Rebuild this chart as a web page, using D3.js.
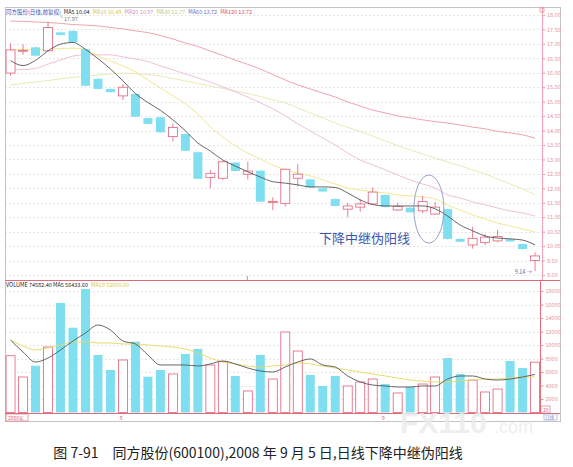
<!DOCTYPE html>
<html>
<head>
<meta charset="utf-8">
<script src="https://cdn.jsdelivr.net/npm/d3@7"></script>
<style>
  body { margin: 0; background: #fff; }
  svg { display: block; }
  text { font-family: "Noto Sans CJK SC", "DejaVu Sans", sans-serif; }
</style>
</head>
<body>
<div id="chart"></div>
<script>
// daily candles, 43 sessions ending 2008-09
const opens = [15.99,16.76,16.88,16.76,17.40,17.45,16.82,15.79,15.44,15.20,15.27,14.43,14.46,13.79,13.88,13.25,12.38,12.35,12.89,12.49,12.61,11.53,11.48,12.35,12.31,12.00,11.63,11.28,11.35,11.46,11.77,11.25,11.33,11.22,11.11,11.28,10.25,10.04,10.13,10.18,10.24,10.07,9.50];
const closes = [16.79,16.78,16.59,17.57,17.31,17.06,15.55,15.44,15.33,15.50,14.48,14.23,13.94,14.11,13.30,12.33,12.52,12.92,12.60,12.60,11.54,11.55,12.66,12.49,12.03,11.89,11.39,11.39,11.46,11.87,11.35,11.37,11.17,11.54,11.35,10.25,10.15,10.27,10.31,10.33,10.16,9.90,9.66];
const highs = [17.02,16.99,16.92,17.76,17.42,17.47,16.84,15.81,15.46,15.61,15.29,14.45,14.48,14.25,13.90,13.27,12.64,12.95,12.91,12.92,12.63,11.69,12.68,12.84,12.33,12.02,11.65,11.50,11.62,12.04,11.79,11.50,11.35,11.74,11.54,11.30,10.27,10.67,10.42,10.56,10.26,10.09,9.78];
const lows = [15.90,16.62,16.55,16.74,17.29,17.04,15.52,15.42,15.31,15.06,14.46,14.21,13.92,13.62,13.28,12.31,12.00,12.29,12.58,12.31,11.52,11.25,11.37,12.06,12.01,11.87,11.37,11.00,11.19,11.45,11.33,11.22,11.15,11.14,11.08,10.23,10.13,9.91,10.04,10.13,10.14,9.88,9.14];
const volumes = [8410,5260,6930,9700,16220,12560,18300,8520,6300,7780,10490,5300,6300,5700,8670,9410,7040,7530,5410,3190,8520,4960,11930,9110,5560,3930,5410,3930,4520,4960,4220,2890,3780,4220,5260,8070,5700,4810,3040,3480,7630,6590,7458];

// moving averages as drawn
const ma5 = [16.42,16.25,16.43,16.76,16.99,17.05,16.81,16.49,16.13,15.72,15.28,14.97,14.70,14.37,13.99,13.57,13.29,12.98,12.77,12.57,12.39,12.23,12.18,12.12,12.05,12.05,12.03,11.84,11.60,11.44,11.39,11.39,11.39,11.39,11.29,11.04,10.73,10.53,10.35,10.28,10.25,10.21,10.04];
const ma10 = [16.80,16.80,16.80,16.82,16.84,16.85,16.82,16.58,16.41,16.24,16.03,15.75,15.47,15.20,14.92,14.57,14.12,13.78,13.47,13.22,13.02,12.81,12.64,12.53,12.43,12.29,12.15,12.01,11.94,11.88,11.84,11.77,11.74,11.70,11.63,11.42,11.25,11.08,10.94,10.80,10.70,10.59,10.49];
const ma20 = [16.10,16.11,16.15,16.30,16.44,16.58,16.62,16.62,16.62,16.55,16.48,16.39,16.24,16.10,15.96,15.82,15.68,15.51,15.34,15.16,14.96,14.75,14.51,14.23,13.99,13.74,13.50,13.22,12.98,12.81,12.64,12.46,12.29,12.15,12.01,11.77,11.67,11.53,11.43,11.32,11.22,11.15,11.04];
const ma30 = [15.58,15.63,15.68,15.73,15.79,15.84,15.87,15.92,15.96,15.99,15.97,15.94,15.89,15.80,15.72,15.63,15.54,15.46,15.37,15.28,15.18,15.06,14.96,14.78,14.61,14.44,14.26,14.11,13.97,13.81,13.64,13.48,13.33,13.19,13.05,12.91,12.78,12.64,12.50,12.33,12.15,11.98,11.77];
const ma120 = [17.79,17.78,17.76,17.74,17.71,17.67,17.65,17.62,17.57,17.52,17.45,17.39,17.29,17.17,17.03,16.91,16.75,16.60,16.44,16.29,16.13,15.94,15.75,15.58,15.44,15.30,15.16,14.99,14.85,14.71,14.61,14.51,14.44,14.37,14.31,14.26,14.19,14.12,14.06,13.97,13.92,13.85,13.74];
const volMa5 = [10740,8960,7480,8070,9260,10590,11780,12960,12220,10590,10150,8520,7040,7040,7040,6890,7190,7630,7190,6590,6150,6000,6740,7480,7930,7040,6740,5410,4520,4070,3930,3780,3780,3930,3930,4960,5410,5410,4960,4810,4960,5260,5643];
const volMa10 = [10740,9850,9260,9560,10000,10440,10440,10300,10300,10150,10150,10000,9850,9700,9410,8810,8070,7480,7190,6890,6740,6890,7040,7330,7190,6890,6590,6300,6000,5700,5410,5110,4810,4670,4520,4520,4670,4810,4960,4960,5110,5260,5260];

// axis ticks and labels
const priceTicks = [18,17.5,17,16.5,16,15.5,15,14.5,14,13.5,13,12.5,12,11.5,11,10.5,10,9.5,9];
const volTicks = [18000,16000,14000,12000,10000,8000,6000,4000,2000];
const priceLegend = [
  { text: "同方股份(日线,前复权)", color: "#3a4fc0" },
  { text: "MA5 10.04", color: "#222" },
  { text: "MA10 10.49", color: "#d8c840" },
  { text: "MA20 10.97", color: "#d890c0" },
  { text: "MA30 11.77", color: "#c8c870" },
  { text: "MA60 13.72", color: "#6070d0" },
  { text: "MA120 13.72", color: "#e05060" }
];
const volLegend = [
  { text: "VOLUME 74582.40  MA5 56433.60", color: "#222" },
  { text: "MA10 52600.00", color: "#d8c840" }
];
const monthMarks = [{ idx: 9, text: "8" }, { idx: 30, text: "9" }];
const caption = "图 7-91　同方股份(600100),2008 年 9 月 5 日,日线下降中继伪阳线";
const noteText = "下降中继伪阳线";

const W = 573, H = 467;
const frame = { left: 5, right: 560, top: 7, priceBottom: 280, volTop: 281, volBottom: 413, bottom: 421 };
const axisX = 542;
const UP = "#e0607a", DOWN = "#7fdff0";

const svg = d3.select("#chart").append("svg")
  .attr("width", W).attr("height", H)
  .attr("viewBox", `0 0 ${W} ${H}`);
svg.append("rect").attr("width", W).attr("height", H).attr("fill", "#fff");

const idx = d3.range(opens.length);
const x = d3.scaleBand().domain(idx).range([4.3, 541.3]).paddingInner(0.28).paddingOuter(0.14);
const cx = (i) => x(i) + x.bandwidth() / 2;
const y = d3.scaleLinear().domain([9, 18]).range([275, 15]);
const yv = d3.scaleLinear().domain([0, 18000]).range([412.5, 291]);

// grid
const grid = svg.append("g").attr("stroke", "#e6e6e6").attr("stroke-dasharray", "2,2");
priceTicks.forEach((t) => {
  grid.append("line").attr("x1", frame.left).attr("x2", axisX)
    .attr("y1", Math.round(y(t)) + 0.5).attr("y2", Math.round(y(t)) + 0.5);
});
volTicks.forEach((t) => {
  grid.append("line").attr("x1", frame.left).attr("x2", axisX)
    .attr("y1", Math.round(yv(t)) + 0.5).attr("y2", Math.round(yv(t)) + 0.5);
});

// frame
svg.append("rect").attr("x", frame.left + 0.5).attr("y", frame.top + 0.5)
  .attr("width", frame.right - frame.left).attr("height", frame.bottom - frame.top)
  .attr("fill", "none").attr("stroke", "#c4c4c4");
svg.append("line").attr("x1", frame.left).attr("x2", frame.right)
  .attr("y1", frame.priceBottom + 0.5).attr("y2", frame.priceBottom + 0.5).attr("stroke", "#e06a7a");
svg.append("line").attr("x1", frame.left).attr("x2", frame.right)
  .attr("y1", frame.volBottom + 0.5).attr("y2", frame.volBottom + 0.5).attr("stroke", "#e06a7a");
svg.append("line").attr("x1", axisX - 1.5).attr("x2", axisX - 1.5)
  .attr("y1", frame.volTop).attr("y2", frame.volBottom).attr("stroke", "#e06a7a");
svg.append("line").attr("x1", axisX + 0.5).attr("x2", axisX + 0.5)
  .attr("y1", frame.top).attr("y2", frame.priceBottom).attr("stroke", "#eca0b0");
svg.append("rect").attr("x", axisX - 2).attr("y", 8).attr("width", 4).attr("height", 4)
  .attr("fill", "none").attr("stroke", "#e07080").attr("stroke-width", 0.6);

// right price axis
const priceAxis = svg.append("g")
  .attr("transform", `translate(${axisX},0)`)
  .call(d3.axisRight(y).tickValues(priceTicks).tickSize(3).tickFormat(d3.format(".2f")));
priceAxis.select(".domain").remove();
priceAxis.selectAll(".tick line").attr("stroke", "#e890a0");
priceAxis.selectAll(".tick text").attr("fill", "#e890a0").style("font-size", "5.5px").attr("x", 5);
const minor = svg.append("g").attr("transform", `translate(${axisX},0)`)
  .call(d3.axisRight(y).tickValues(d3.range(9, 18.01, 0.1)).tickSize(1.5).tickFormat(""));
minor.select(".domain").remove();
minor.selectAll(".tick line").attr("stroke", "#eeb0c0");

// right volume axis
const volAxis = svg.append("g")
  .attr("transform", `translate(${axisX - 1.5},0)`)
  .call(d3.axisRight(yv).tickValues(volTicks).tickSize(3).tickFormat(d3.format("d")));
volAxis.select(".domain").remove();
volAxis.selectAll(".tick line").attr("stroke", "#e890a0");
volAxis.selectAll(".tick text").attr("fill", "#e890a0").style("font-size", "5.5px").attr("x", 5);
svg.append("rect").attr("x", axisX - 1).attr("y", 406).attr("width", 9).attr("height", 7)
  .attr("fill", "none").attr("stroke", "#e06a7a").attr("stroke-width", 0.6);
svg.append("text").attr("x", axisX + 1).attr("y", 411.5).attr("fill", "#e06a7a")
  .style("font-size", "5px").text("20");

// MA lines in the price panel
const priceLine = d3.line().x((d, i) => cx(i)).y((d) => y(d)).curve(d3.curveMonotoneX);
[[ma120, "#ee98a6", 0.9], [ma30, "#e6e6aa", 0.9], [ma20, "#eabad6", 0.9], [ma10, "#f0e488", 0.9]]
  .forEach(([data, color, w]) => {
    svg.append("path").datum(data).attr("d", priceLine)
      .attr("fill", "none").attr("stroke", color).attr("stroke-width", w);
  });

// candles
const candles = svg.append("g");
idx.forEach((i) => {
  const up = closes[i] >= opens[i];
  const color = up ? UP : DOWN;
  const g = candles.append("g");
  g.append("line").attr("x1", cx(i)).attr("x2", cx(i))
    .attr("y1", y(highs[i])).attr("y2", y(lows[i]))
    .attr("stroke", color).attr("stroke-width", 0.8);
  const top = y(Math.max(opens[i], closes[i]));
  const h = Math.max(1, y(Math.min(opens[i], closes[i])) - top);
  g.append("rect").attr("x", x(i)).attr("y", top)
    .attr("width", x.bandwidth()).attr("height", h)
    .attr("fill", up ? "#fff" : DOWN)
    .attr("stroke", up ? UP : "none").attr("stroke-width", 0.8);
});

svg.append("path").datum(ma5).attr("d", priceLine)
  .attr("fill", "none").attr("stroke", "#555").attr("stroke-width", 0.9);

// volume bars
idx.forEach((i) => {
  const up = closes[i] >= opens[i];
  svg.append("rect").attr("x", x(i)).attr("y", yv(volumes[i]))
    .attr("width", x.bandwidth()).attr("height", yv(0) - yv(volumes[i]))
    .attr("fill", up ? "#fff" : DOWN)
    .attr("stroke", up ? UP : "none").attr("stroke-width", 0.8);
});
const volLine = d3.line().x((d, i) => cx(i)).y((d) => yv(d)).curve(d3.curveMonotoneX);
svg.append("path").datum(volMa10).attr("d", volLine)
  .attr("fill", "none").attr("stroke", "#e8d860").attr("stroke-width", 0.9);
svg.append("path").datum(volMa5).attr("d", volLine)
  .attr("fill", "none").attr("stroke", "#555").attr("stroke-width", 0.9);

// legends
let lx = 6;
priceLegend.forEach((d) => {
  const t = svg.append("text").attr("x", lx).attr("y", 13.5)
    .attr("fill", d.color).style("font-size", "5.5px").text(d.text);
  lx += t.node().getComputedTextLength() + 3;
});
lx = 6;
volLegend.forEach((d) => {
  const t = svg.append("text").attr("x", lx).attr("y", 287)
    .attr("fill", d.color).style("font-size", "5.5px").text(d.text);
  lx += t.node().getComputedTextLength() + 3;
});

// high / low markers
const hiIdx = d3.maxIndex(highs), loIdx = d3.minIndex(lows);
svg.append("line").attr("x1", cx(hiIdx) + 12).attr("y1", 15.5).attr("x2", cx(hiIdx) + 15).attr("y2", 18)
  .attr("stroke", "#777").attr("stroke-width", 0.5);
svg.append("text").attr("x", cx(hiIdx) + 16).attr("y", 20.5).attr("fill", "#777")
  .style("font-size", "5.5px").text("17.97");
svg.append("text").attr("x", cx(loIdx) - 3).attr("y", 273.5).attr("text-anchor", "end")
  .attr("fill", "#6070a0").style("font-size", "5.5px").text("9.14 →");

// month marks
svg.append("rect").attr("x", frame.left + 1).attr("y", 414).attr("width", 22).attr("height", 7)
  .attr("fill", "none").attr("stroke", "#e06a7a").attr("stroke-width", 0.6);
svg.append("text").attr("x", frame.left + 3).attr("y", 419.5).attr("fill", "#e06a7a")
  .style("font-size", "5px").text("2008年");
monthMarks.forEach((m) => {
  svg.append("text").attr("x", x(m.idx) + 1).attr("y", 420).attr("fill", "#e06a7a")
    .style("font-size", "5.5px").text(m.text);
});
svg.append("line").attr("x1", cx(19) - 0.5).attr("x2", cx(19) - 0.5).attr("y1", 276).attr("y2", 280)
  .attr("stroke", "#e06a7a").attr("stroke-width", 0.8);
svg.append("rect").attr("x", axisX + 2).attr("y", 414).attr("width", 13).attr("height", 6)
  .attr("fill", "none").attr("stroke", "#8090c0").attr("stroke-width", 0.5);
svg.append("text").attr("x", axisX + 3).attr("y", 419).attr("fill", "#8090c0")
  .style("font-size", "4.5px").text("日线");

// annotation: ellipse around the pseudo-bullish candles
const noteMid = (cx(33) + cx(34)) / 2;
svg.append("ellipse").attr("cx", noteMid).attr("cy", 209).attr("rx", 15).attr("ry", 34)
  .attr("fill", "none").attr("stroke", "#8a9ac0").attr("stroke-width", 0.9);
svg.append("text").attr("x", 319).attr("y", 243).attr("fill", "#3a55b0")
  .style("font-size", "13px").text(noteText);

// watermark
const wm = svg.append("g").attr("opacity", 0.85);
wm.append("text").attr("x", 400).attr("y", 433).attr("fill", "#ececec")
  .style("font-size", "30px").style("font-weight", "bold").style("font-family", "Liberation Sans, sans-serif")
  .text("FX110");
wm.append("text").attr("x", 494).attr("y", 433).attr("fill", "#ececec")
  .style("font-size", "18px").style("font-family", "Liberation Sans, sans-serif").text(".com");

// caption
svg.append("text").attr("x", 258).attr("y", 458).attr("text-anchor", "middle")
  .attr("fill", "#222").style("font-size", "14px").text(caption);
</script>
</body>
</html>
